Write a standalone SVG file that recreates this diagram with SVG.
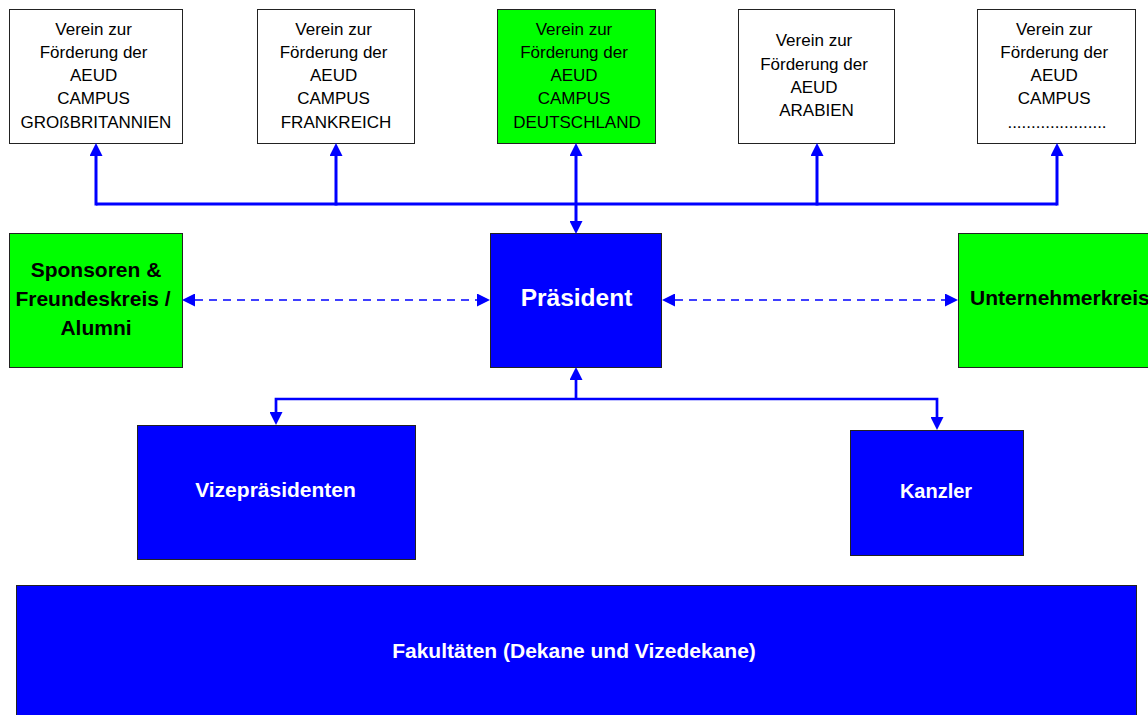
<svg xmlns="http://www.w3.org/2000/svg" width="1148" height="715" viewBox="0 0 1148 715">
<style>
.wb{fill:#ffffff;stroke:#222;stroke-width:1}
.gb{fill:#00ff00;stroke:#222;stroke-width:1}
.bb{fill:#0000ff;stroke:#222;stroke-width:1}
.t{font-family:"Liberation Sans",Arial,sans-serif;font-size:17px;fill:#000;text-anchor:middle}
.tb{font-family:"Liberation Sans",Arial,sans-serif;font-weight:bold;font-size:21px;fill:#000;text-anchor:middle}
.tw{font-family:"Liberation Sans",Arial,sans-serif;font-weight:bold;font-size:21px;fill:#fff;text-anchor:middle}
.c{fill:none;stroke:#0000ff;stroke-width:3}
.c2{fill:none;stroke:#0000ff;stroke-width:2.7}
.d{fill:none;stroke:#0000ff;stroke-width:1.3;stroke-dasharray:8,6}
</style>
<defs>
<marker id="ah" markerUnits="userSpaceOnUse" markerWidth="13" markerHeight="13" viewBox="0 0 13 13" refX="0" refY="6.5" orient="auto-start-reverse">
<path d="M0,0 L13,6.5 L0,13 Z" fill="#0000ff"/>
</marker>
</defs>
<rect width="1148" height="715" fill="#ffffff"/>

<g id="verein-gb">
<rect class="wb" x="9.5" y="9.5" width="173" height="134"/>
<text class="t" x="93.6" y="34.5">Verein zur</text>
<text class="t" x="93.6" y="57.8">Förderung der</text>
<text class="t" x="93.6" y="81.1">AEUD</text>
<text class="t" x="93.6" y="104.4">CAMPUS</text>
<text class="t" x="96" y="127.7">GROßBRITANNIEN</text>
</g>
<g id="verein-fr">
<rect class="wb" x="257.5" y="9.5" width="157" height="134"/>
<text class="t" x="333.6" y="34.5">Verein zur</text>
<text class="t" x="333.6" y="57.8">Förderung der</text>
<text class="t" x="333.6" y="81.1">AEUD</text>
<text class="t" x="333.6" y="104.4">CAMPUS</text>
<text class="t" x="336" y="127.7">FRANKREICH</text>
</g>
<g id="verein-de">
<rect class="gb" x="497.5" y="9.5" width="158" height="134"/>
<text class="t" x="574" y="34.5">Verein zur</text>
<text class="t" x="574" y="57.8">Förderung der</text>
<text class="t" x="574" y="81.1">AEUD</text>
<text class="t" x="574" y="104.4">CAMPUS</text>
<text class="t" x="577" y="127.7">DEUTSCHLAND</text>
</g>
<g id="verein-ar">
<rect class="wb" x="738.5" y="9.5" width="156" height="134"/>
<text class="t" x="814" y="46.2">Verein zur</text>
<text class="t" x="814" y="69.5">Förderung der</text>
<text class="t" x="814" y="92.8">AEUD</text>
<text class="t" x="816.5" y="116.1">ARABIEN</text>
</g>
<g id="verein-x">
<rect class="wb" x="977.5" y="9.5" width="158" height="134"/>
<text class="t" x="1054.2" y="34.5">Verein zur</text>
<text class="t" x="1054.2" y="57.8">Förderung der</text>
<text class="t" x="1054.2" y="81.1">AEUD</text>
<text class="t" x="1054.2" y="104.4">CAMPUS</text>
<text class="t" x="1057" y="127.7">.....................</text>
</g>

<g id="sponsoren">
<rect class="gb" x="9.5" y="233.5" width="173" height="134"/>
<text class="tb" x="96" y="277">Sponsoren &amp;</text>
<text class="tb" x="93" y="306">Freundeskreis /</text>
<text class="tb" x="96" y="335">Alumni</text>
</g>
<g id="praesident">
<rect class="bb" x="490.5" y="233.5" width="171" height="134"/>
<text class="tw" x="576.5" y="306" style="font-size:24.5px">Präsident</text>
</g>
<g id="unternehmerkreis">
<rect class="gb" x="958.5" y="233.5" width="200" height="134"/>
<text class="tb" x="970" y="305" style="text-anchor:start">Unternehmerkreis</text>
</g>

<g id="vizepraesidenten">
<rect class="bb" x="137.5" y="425.5" width="278" height="134"/>
<text class="tw" x="275.5" y="496.7">Vizepräsidenten</text>
</g>
<g id="kanzler">
<rect class="bb" x="850.5" y="430.5" width="173" height="125"/>
<text class="tw" x="936" y="497.7" style="font-size:20px">Kanzler</text>
</g>
<g id="fakultaeten">
<rect class="bb" x="16.5" y="585.5" width="1120" height="140"/>
<text class="tw" x="574" y="657.7">Fakultäten (Dekane und Vizedekane)</text>
</g>

<g id="connectors">
<path class="c" d="M96,204 H1057"/>
<path class="c" d="M96,205.5 V156" marker-end="url(#ah)"/>
<path class="c" d="M336,205.5 V156" marker-end="url(#ah)"/>
<path class="c" d="M817,205.5 V156" marker-end="url(#ah)"/>
<path class="c" d="M1057,205.5 V156" marker-end="url(#ah)"/>
<path class="c" d="M576,221 V156" marker-start="url(#ah)" marker-end="url(#ah)"/>
<path class="c2" d="M576,399 V380" marker-end="url(#ah)"/>
<path class="c2" d="M576,399 H276 V412" marker-end="url(#ah)"/>
<path class="c2" d="M576,399 H937 V417" marker-end="url(#ah)"/>
<path class="d" d="M195,300 H477" marker-start="url(#ah)" marker-end="url(#ah)"/>
<path class="d" d="M675,300 H945" marker-start="url(#ah)" marker-end="url(#ah)"/>
</g>
</svg>
